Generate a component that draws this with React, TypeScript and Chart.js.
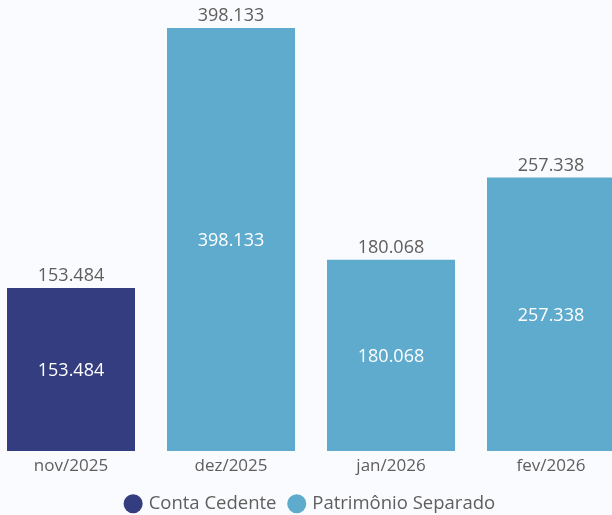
import React, { useEffect, useRef } from "react";
import { Chart, registerables } from "chart.js";

Chart.register(...registerables);

const categories = ["nov/2025", "dez/2025", "jan/2026", "fev/2026"];
const contaCedente = [153484, null, null, null];
const patrimonioSeparado = [null, 398133, 180068, 257338];
const seriesNames = ["Conta Cedente", "Patrimônio Separado"];
const seriesColors = ["#343d80", "#5eabce"];

const FONT = "'Segoe UI', 'Open Sans', sans-serif";
const TEXT_GRAY = "#605e5c";

const fmt = (v: number) => String(Math.round(v)).replace(/\B(?=(\d{3})+(?!\d))/g, ".");

const labelPlugin = {
  id: "barLabels",
  afterDatasetsDraw(chart: any) {
    const ctx = chart.ctx;
    const yScale = chart.scales.y;
    ctx.save();
    ctx.font = `18px ${FONT}`;
    ctx.textAlign = "center";
    ctx.textBaseline = "alphabetic";
    // inner labels
    chart.data.datasets.forEach((ds: any, di: number) => {
      const meta = chart.getDatasetMeta(di);
      meta.data.forEach((bar: any, i: number) => {
        const v = ds.data[i];
        if (v == null || v === 0) return;
        const mid = (bar.y + bar.base) / 2;
        ctx.fillStyle = "#ffffff";
        ctx.fillText(fmt(v), bar.x, mid + 6.5);
      });
    });
    // totals
    categories.forEach((_, i) => {
      let total = 0;
      chart.data.datasets.forEach((ds: any) => {
        const v = ds.data[i];
        if (v != null) total += v;
      });
      const meta = chart.getDatasetMeta(0);
      const x = meta.data[i].x;
      const y = yScale.getPixelForValue(total);
      ctx.fillStyle = TEXT_GRAY;
      ctx.fillText(fmt(total), x, y - 7);
    });
    ctx.restore();
  },
};

export default function App() {
  const ref = useRef<HTMLCanvasElement>(null);
  useEffect(() => {
    if (!ref.current) return;
    const totals = categories.map((_, i) => (contaCedente[i] || 0) + (patrimonioSeparado[i] || 0));
    const chart = new Chart(ref.current, {
      type: "bar",
      data: {
        labels: categories,
        datasets: [
          {
            label: seriesNames[0],
            data: contaCedente,
            backgroundColor: seriesColors[0],
            borderWidth: 0,
            barPercentage: 0.8,
            categoryPercentage: 1,
          },
          {
            label: seriesNames[1],
            data: patrimonioSeparado,
            backgroundColor: seriesColors[1],
            borderWidth: 0,
            barPercentage: 0.8,
            categoryPercentage: 1,
          },
        ],
      },
      options: {
        animation: false,
        responsive: false,
        devicePixelRatio: 1,
        layout: { padding: { top: 28, left: 0, right: 0, bottom: 0 } },
        scales: {
          x: {
            stacked: true,
            grid: { display: false, drawTicks: false },
            border: { display: false },
            ticks: { color: TEXT_GRAY, font: { family: FONT, size: 17 }, padding: 5 },
            afterFit: (scale: any) => {
              scale.height = 29.5;
            },
          },
          y: {
            stacked: true,
            display: false,
            min: 0,
            max: Math.max(...totals),
          },
        },
        plugins: {
          legend: {
            position: "bottom",
            labels: {
              usePointStyle: true,
              pointStyle: "circle",
              boxWidth: 12.5,
              boxHeight: 13.5,
              padding: 14,
              color: TEXT_GRAY,
              font: { family: FONT, size: 18.5 },
            },
          },
          tooltip: { enabled: false },
        },
      },
      plugins: [labelPlugin],
    });
    return () => chart.destroy();
  }, []);

  return (
    <div
      style={{
        position: "fixed",
        left: 0,
        top: 0,
        width: 612,
        height: 515,
        overflow: "hidden",
        background: "#f9fbfe",
      }}
    >
      <canvas
        ref={ref}
        width={640}
        height={523}
        style={{ position: "absolute", left: -9, top: 0, width: 640, height: 523 }}
      />
    </div>
  );
}
